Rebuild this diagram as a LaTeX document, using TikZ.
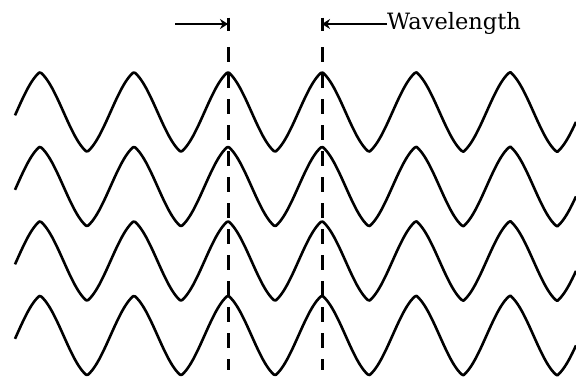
\documentclass[tikz,border=0pt]{standalone}
\usepackage{fontspec}
\setmainfont{DejaVu Serif}
\usepackage{tikz}
\usetikzlibrary{arrows.meta, positioning}

\begin{document}
\begin{tikzpicture}[x=1pt, y=-1pt,
  wave/.style={line width=2.6pt, line join=round},
  crest/.style={line width=3pt, dash pattern=on 15pt off 11pt},
  span/.style={line width=1.3pt, -{Stealth[length=8pt, width=10pt]}},
  endbar/.style={line width=3pt}]
  \useasboundingbox (0,0) rectangle (576,380);
  % four rows of waves, part sine and part triangle
  \foreach \row in {0,...,3}
    \draw[wave] plot[domain=15:576, samples=300]
      (\x, {112 + 74.5*\row - 40*(0.55*sin(3.8298*(\x-16.5)) + 0.45*asin(sin(3.8298*(\x-16.5)))/90)});
  % crest markers
  \coordinate (lhead) at (228,24);
  \coordinate (rhead) at (322,24);
  \coordinate (ltail) at (175,24);
  \draw[crest] (228,47) -- (228,370);
  \draw[crest] (322,47) -- (322,370);
  \draw[endbar] ([yshift=6.5]lhead) -- ([yshift=-6.5]lhead);
  \draw[endbar] ([yshift=6.5]rhead) -- ([yshift=-6.5]rhead);
  \node[font=\fontsize{22.5}{26}\selectfont, anchor=west, inner sep=0pt] (wl) at (387,23) {Wavelength};
  \draw[span] (ltail) -- (lhead);
  \draw[span] (wl.west |- rhead) -- (rhead);
\end{tikzpicture}
\end{document}
